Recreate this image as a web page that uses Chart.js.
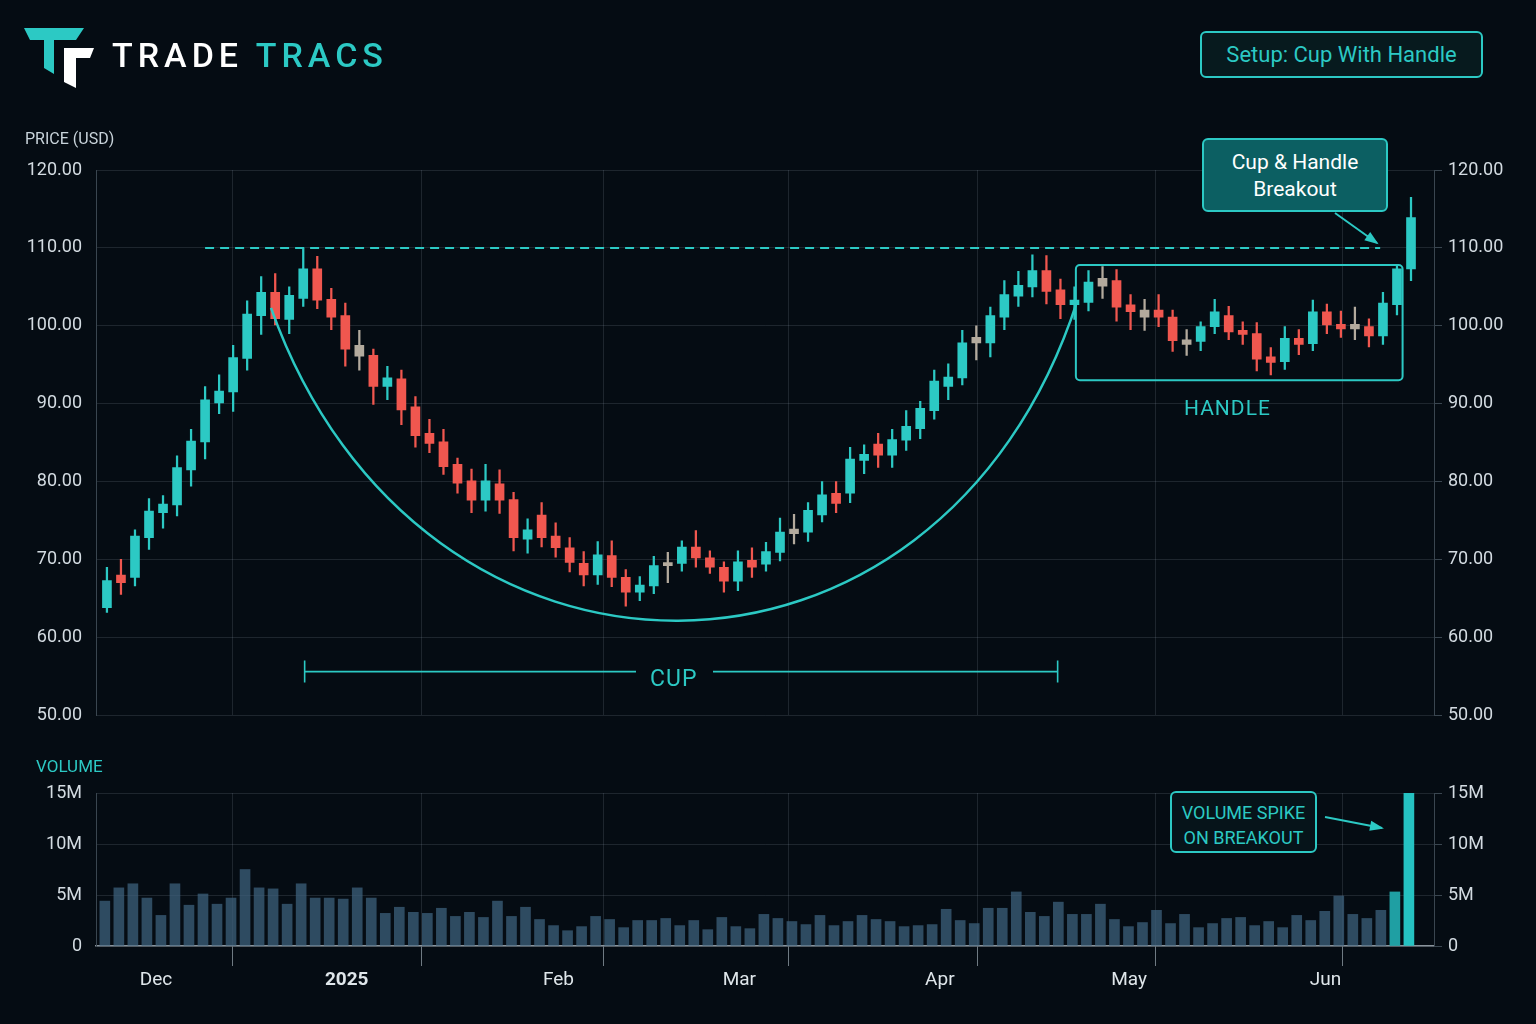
<!DOCTYPE html>
<html>
<head>
<meta charset="utf-8">
<script src="https://cdn.jsdelivr.net/npm/chart.js@4"></script>
<style>
  html,body{margin:0;padding:0;background:#050c13;}
  body{width:1536px;height:1024px;position:relative;overflow:hidden;font-family:Roboto,"Noto Sans",sans-serif;}
  canvas{position:absolute;left:0;}
  #price{top:0;}
  #vol{top:760px;}
  .lbl{position:absolute;white-space:nowrap;}
  .box{position:absolute;box-sizing:border-box;border:2px solid #2cc9c4;border-radius:6px;text-align:center;}
</style>
</head>
<body>
<canvas id="price" width="1536" height="740" style="width:1536px;height:740px"></canvas>
<canvas id="vol" width="1536" height="264" style="width:1536px;height:264px"></canvas>

<svg class="lbl" style="left:24px;top:26px" width="72" height="64" viewBox="0 0 72 64">
  <polygon points="0,2 60,2 52,14 30,14 30,48 20,42 20,14 6,14" fill="#2cc9c4"/>
  <polygon points="40,22 70,22 66,32 52,32 52,62 40,56" fill="#ffffff"/>
</svg>
<div class="lbl" style="left:112px;top:35px;font-size:34px;letter-spacing:5px;font-weight:500;color:#fff">TRADE <span style="color:#2cc9c4">TRACS</span></div>
<div class="box" style="left:1200px;top:31px;width:283px;height:47px;line-height:43px;font-size:22px;color:#2cc9c4;background:#071a1e">Setup: Cup With Handle</div>
<div class="lbl" style="left:25px;top:129px;font-size:16px;color:#c8d3da">PRICE (USD)</div>
<div class="lbl" style="left:36px;top:756px;font-size:17px;color:#2cc9c4">VOLUME</div>
<div class="box" style="left:1202px;top:138px;width:186px;height:74px;padding-top:9px;font-size:21px;line-height:27px;color:#fff;background:#0c5f62">Cup &amp; Handle<br>Breakout</div>
<div class="lbl" style="left:1184px;top:396px;font-size:21px;letter-spacing:1px;color:#2cc9c4">HANDLE</div>
<div class="lbl" style="left:650px;top:665px;font-size:23px;letter-spacing:1px;color:#2cc9c4">CUP</div>
<div class="box" style="left:1170px;top:791px;width:147px;height:62px;padding-top:7px;font-size:18px;line-height:25px;color:#2cc9c4;background:#06141a">VOLUME SPIKE<br>ON BREAKOUT</div>

<script>
// OHLC, one value per daily candle
const opens = [63.8,68,67.7,72.8,76,77,81.5,85.1,90.1,91.5,
  95.8,101.3,104.3,100.8,103.5,107.3,103.4,101.3,97.5,96.2,
  92.2,93.2,89.6,86.2,85.1,82.2,80.1,77.6,79.7,77.7,
  72.6,75.7,73,71.5,69.5,68,70.5,67.7,65.8,66.6,
  69.2,69.5,71.6,70.2,69,67.2,69.9,69.4,70.9,73.3,
  73.5,75.7,78.5,78.5,82.7,84.8,83.4,85.3,86.8,89.1,
  92.2,93.3,97.8,97.8,101.1,103.8,105,107.1,104.6,102.7,
  103,106.1,105.8,102.7,101.1,102,101.1,98.2,98,99.9,
  101.3,99.4,99,96,95.4,98.4,97.7,101.8,100.2,99.6,
  99.9,98.7,102.7,107.3];
const closes = [67.3,67,73,76.2,77.1,81.8,85.2,90.5,91.6,95.9,
  101.5,104.3,100.9,103.9,107.3,103.3,101.1,97,96.1,92.2,
  93.3,89.2,85.9,84.9,81.9,79.8,77.6,80.1,77.6,72.8,
  73.8,72.8,71.5,69.6,68,70.6,67.7,65.8,66.7,69.2,
  69.6,71.6,70.2,69,67.2,69.7,69,71,73.5,73.9,
  76.3,78.3,77.2,82.9,83.5,83.4,85.4,87.1,89.4,92.9,
  93.4,97.8,98.5,101.3,104,105.2,107.1,104.4,102.7,103.3,
  105.6,105.1,102.4,101.8,102,101.1,98.1,97.6,99.9,101.8,
  99.2,98.9,95.7,95.3,98.4,97.6,101.8,100.1,99.6,100.2,
  98.7,102.9,107.3,113.9];
const highs = [69,70,73.8,77.8,78.2,83.3,86.7,92.2,93.7,97.5,
  103.2,106.3,106.7,105,110,108.9,104.8,102.9,99.4,97,
  94.8,94.3,90.9,88,86.7,83,81.6,82.2,81.5,78.6,
  75.2,77.3,74.7,72.8,71,72.3,72.4,68.7,67.8,70.4,
  70.9,72.4,73.7,71.1,69.7,71.1,71.5,72.2,75.3,75.8,
  77.3,80,80,84.4,84.7,86.2,86.7,89.1,90.3,94.3,
  95.1,99.4,100,102.4,105.8,107,109.1,109,106,105,
  107.1,107.6,107.2,104,103.4,104,102,99.5,100.5,103.4,
  102.5,100.5,100.4,97.2,99.9,99.5,103.3,102.8,101.9,102.4,
  100.9,104.3,107.7,116.5];
const lows = [63.2,65.5,66.6,71.3,74,75.6,79.4,82.9,88.7,89,
  94.3,98.9,100.1,99,102.5,102.2,99.5,94.8,94.3,89.9,
  90.5,87.3,84.4,83.7,80.9,78.5,76,76.2,75.9,71.1,
  70.8,71.6,70.3,68.4,66.6,66.8,66.5,64,64.7,65.6,
  67,68.5,69,68.2,65.8,66,67.7,68.5,69.8,72,
  72.3,74.8,76,77.3,81,81.8,81.8,84,85.5,88,
  90.5,92.4,95.6,96,99.5,102.5,103.7,102.8,100.9,100.8,
  101.9,103.5,100.6,99.5,99.4,99.9,96.7,96.2,96.8,99,
  98.2,97.6,94.2,93.7,94.4,96.3,96.8,99,98.5,98.2,
  97.3,97.6,101.4,105.8];
// near-doji candles drawn in a neutral colour
const neutral = [18,40,49,62,71,74,77,89];
// volume in millions
const volumes = [4.4,5.7,6.1,4.7,3.0,6.1,4.0,5.1,4.1,4.7,
  7.5,5.7,5.6,4.1,6.1,4.7,4.7,4.6,5.7,4.7,
  3.2,3.8,3.3,3.2,3.7,2.9,3.3,2.8,4.4,2.9,
  3.8,2.6,2.0,1.5,1.9,2.9,2.6,1.8,2.5,2.5,
  2.7,2.0,2.5,1.6,2.8,1.9,1.7,3.1,2.7,2.4,
  2.1,3.0,2.0,2.4,3.0,2.6,2.4,1.9,2.0,2.1,
  3.6,2.5,2.2,3.7,3.7,5.3,3.3,2.9,4.3,3.1,
  3.1,4.1,2.6,1.9,2.3,3.5,2.2,3.1,1.8,2.2,
  2.7,2.8,2.0,2.4,1.8,3.0,2.5,3.4,4.9,3.1,
  2.7,3.5,5.3,15];
const priceTicks = [50,60,70,80,90,100,110,120];
const volTicks = [0,5,10,15];
const monthBounds = [8.95,22.4,35.4,48.6,62.05,74.75,88.1];
const monthLabels = ['Dec','2025','Feb','Mar','Apr','May','Jun'];
const monthLabelPos = [3.5,17.1,32.2,45.1,59.4,72.9,86.9];
const resistance = 110;
const cupCurve = [[11.7,102.3],[22.3,48.6],[59.4,48.6],[69.2,103.2]];
const cupSpan = [14.1,67.8,55.6];
const handleBox = [69.1,92.4,107.8,93.0];

const TEAL='#2cc9c4', RED='#f0574f', GRAY='#b3aa9d';
const XMIN=-0.78, XMAX=94.64;
const candleColor = i => neutral.includes(i) ? GRAY : (closes[i]>=opens[i] ? TEAL : RED);
const idx = opens.map((_,i)=>i);

const gridCol='rgba(160,175,190,0.16)';
const tickFont={family:'Roboto',size:18};
const monthTicks = ax => { ax.ticks = monthBounds.map(v=>({value:v})); };
const fixW = w => s => { s.width = w; };

const annot = {
  id:'annot',
  afterDatasetsDraw(c){
    const {ctx, scales:{x,y}} = c;
    const px=v=>x.getPixelForValue(v), py=v=>y.getPixelForValue(v);
    ctx.save();
    ctx.strokeStyle=TEAL; ctx.lineWidth=2;
    // resistance
    ctx.setLineDash([9,6]);
    ctx.beginPath(); ctx.moveTo(px(7),py(resistance)); ctx.lineTo(px(90.8),py(resistance)); ctx.stroke();
    ctx.setLineDash([]);
    // cup curve
    const p=cupCurve.map(([a,b])=>[px(a),py(b)]);
    ctx.lineWidth=2.5;
    ctx.beginPath(); ctx.moveTo(...p[0]); ctx.bezierCurveTo(...p[1],...p[2],...p[3]); ctx.stroke();
    // cup span
    ctx.lineWidth=1.6;
    const yy=py(cupSpan[2]), xa=px(cupSpan[0]), xb=px(cupSpan[1]);
    ctx.beginPath();
    ctx.moveTo(xa,yy); ctx.lineTo(636,yy); ctx.moveTo(713,yy); ctx.lineTo(xb,yy);
    ctx.moveTo(xa,yy-11); ctx.lineTo(xa,yy+11); ctx.moveTo(xb,yy-11); ctx.lineTo(xb,yy+11);
    ctx.stroke();
    // handle box
    ctx.lineWidth=2;
    const hx=px(handleBox[0]), hy=py(handleBox[2]);
    ctx.beginPath(); ctx.roundRect(hx,hy,px(handleBox[1])-hx,py(handleBox[3])-hy,4); ctx.stroke();
    // breakout arrow
    arrow(ctx,1335,213,1377,243);
    ctx.restore();
  }
};
function arrow(ctx,x1,y1,x2,y2){
  ctx.strokeStyle=TEAL; ctx.fillStyle=TEAL; ctx.lineWidth=2;
  ctx.beginPath(); ctx.moveTo(x1,y1); ctx.lineTo(x2,y2); ctx.stroke();
  const a=Math.atan2(y2-y1,x2-x1), L=13;
  ctx.beginPath(); ctx.moveTo(x2+2*Math.cos(a),y2+2*Math.sin(a));
  ctx.lineTo(x2-L*Math.cos(a-0.4),y2-L*Math.sin(a-0.4));
  ctx.lineTo(x2-L*Math.cos(a+0.4),y2-L*Math.sin(a+0.4)); ctx.closePath(); ctx.fill();
}

new Chart(document.getElementById('price'), {
  type:'bar',
  data:{datasets:[
    {data: idx.map(i=>({x:i,y:[opens[i],closes[i]]})), backgroundColor: idx.map(candleColor), barThickness:9, grouped:false},
    {data: idx.map(i=>({x:i,y:[lows[i],highs[i]]})), backgroundColor: idx.map(candleColor), barThickness:1.6, grouped:false},
  ]},
  options:{responsive:false, animation:false, layout:{padding:{top:170,bottom:14}},
    plugins:{legend:{display:false}, tooltip:{enabled:false}},
    scales:{
      x:{type:'linear', offset:false, min:XMIN, max:XMAX, afterBuildTicks:monthTicks, afterFit:s=>{s.height=0;},
         ticks:{display:false}, border:{display:false},
         grid:{color:gridCol, borderDash:[3,4], drawTicks:false, offset:false}},
      y:{position:'left', min:50, max:120, afterBuildTicks:ax=>{ax.ticks=priceTicks.map(v=>({value:v}));}, afterFit:fixW(96),
         ticks:{color:'#d3dbe1', font:tickFont, padding:14, callback:v=>v.toFixed(2)},
         border:{color:'#3a4650'}, grid:{color:gridCol, borderDash:[3,4], drawTicks:false}},
      y2:{position:'right', min:50, max:120, afterBuildTicks:ax=>{ax.ticks=priceTicks.map(v=>({value:v}));}, afterFit:fixW(102),
         ticks:{color:'#d3dbe1', font:tickFont, padding:6, callback:v=>v.toFixed(2)},
         border:{color:'#3a4650'}, grid:{drawOnChartArea:false, color:'#3a4650', tickLength:8}}
    }},
  plugins:[annot]
});

const monthText = {
  id:'monthText',
  afterDraw(c){
    const {ctx, scales:{x}} = c;
    ctx.save(); ctx.textAlign='center'; ctx.textBaseline='middle'; ctx.fillStyle='#dfe6ea';
    monthLabels.forEach((t,i)=>{
      ctx.font=(t==='2025'?'bold ':'')+'19px Roboto';
      ctx.fillText(t, x.getPixelForValue(monthLabelPos[i]), 220);
    });
    arrow(ctx,1325,57,1382,68);
    ctx.restore();
  }
};

new Chart(document.getElementById('vol'), {
  type:'bar',
  data:{datasets:[{data: volumes.map((v,i)=>({x:i-0.15,y:v})),
    backgroundColor: volumes.map((v,i)=> i===93 ? '#25c2c2' : i===92 ? '#1f9fa3' : 'rgba(62,100,128,0.72)'),
    barThickness:10}]},
  options:{responsive:false, animation:false, layout:{padding:{top:33,bottom:28}},
    plugins:{legend:{display:false}, tooltip:{enabled:false}},
    scales:{
      x:{type:'linear', offset:false, min:XMIN, max:XMAX, afterBuildTicks:monthTicks, afterFit:s=>{s.height=50;},
         ticks:{display:false}, border:{color:'#8a949c', width:1.5},
         grid:{color:gridCol, borderDash:[3,4], tickColor:'#6f7a82', tickLength:20, tickBorderDash:[], offset:false}},
      y:{position:'left', min:0, max:15, afterBuildTicks:ax=>{ax.ticks=volTicks.map(v=>({value:v}));}, afterFit:fixW(96),
         ticks:{color:'#d3dbe1', font:tickFont, padding:14, callback:v=>v===0?'0':v+'M'},
         border:{color:'#3a4650'}, grid:{color:gridCol, borderDash:[3,4], drawTicks:false}},
      y2:{position:'right', min:0, max:15, afterBuildTicks:ax=>{ax.ticks=volTicks.map(v=>({value:v}));}, afterFit:fixW(102),
         ticks:{color:'#d3dbe1', font:tickFont, padding:6, callback:v=>v===0?'0':v+'M'},
         border:{color:'#3a4650'}, grid:{drawOnChartArea:false, color:'#3a4650', tickLength:8}}
    }},
  plugins:[monthText]
});
</script>
</body>
</html>
